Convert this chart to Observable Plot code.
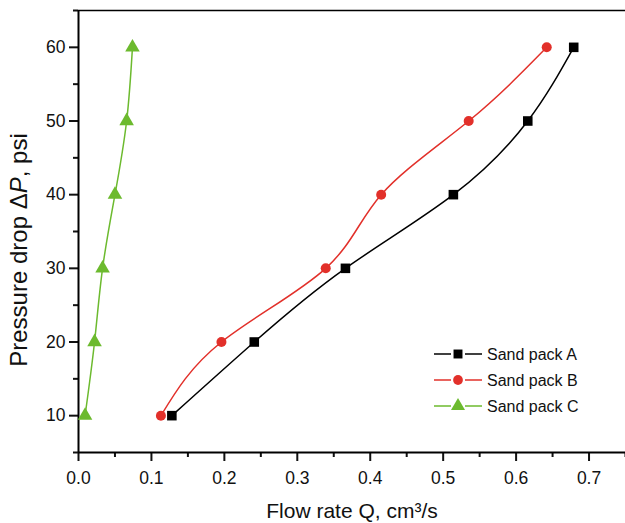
<!DOCTYPE html>
<html>
<head>
<meta charset="utf-8">
<script src="https://cdn.jsdelivr.net/npm/d3@7"></script>
<script src="https://cdn.jsdelivr.net/npm/@observablehq/plot@0.6"></script>
<style>
  html, body { margin: 0; padding: 0; background: #fff; }
  #chart { width: 625px; height: 523px; }
</style>
</head>
<body>
<div id="chart"></div>
<script>
// ---- data ----
const seriesNames = ["Sand pack A", "Sand pack B", "Sand pack C"];
const pressure = [10, 20, 30, 40, 50, 60];
const flowA = [0.128, 0.241, 0.366, 0.514, 0.616, 0.679];
const flowB = [0.113, 0.196, 0.339, 0.415, 0.535, 0.642];
const flowC = [0.009, 0.022, 0.033, 0.050, 0.066, 0.074];
const xTicks = [0, 0.1, 0.2, 0.3, 0.4, 0.5, 0.6, 0.7];
const xMinorTicks = [0.05, 0.15, 0.25, 0.35, 0.45, 0.55, 0.65, 0.75];
const yTicks = [10, 20, 30, 40, 50, 60];
const yMinorTicks = [5, 15, 25, 35, 45, 55, 65];

const colors = ["#000000", "#e2302a", "#6cba2e"];
const symbols = ["square", "circle", "triangle"];
const flows = [flowA, flowB, flowC];

const rows = [];
seriesNames.forEach((s, i) => {
  pressure.forEach((p, j) => rows.push({series: s, q: flows[i][j], dp: p}));
});

const font = "'Liberation Sans', Arial, Helvetica, sans-serif";

const marks = [];
seriesNames.forEach((s, i) => {
  const d = rows.filter(r => r.series === s);
  marks.push(Plot.line(d, {x: "q", y: "dp", stroke: colors[i], strokeWidth: 1.5, curve: "natural"}));
});
seriesNames.forEach((s, i) => {
  const d = rows.filter(r => r.series === s);
  marks.push(Plot.dot(d, {x: "q", y: "dp", symbol: symbols[i], fill: colors[i], stroke: "none",
    r: i === 1 ? 5 : 5.4}));
});

const chart = Plot.plot({
  width: 625,
  height: 523,
  marginLeft: 78,
  marginRight: 0,
  marginTop: 10,
  marginBottom: 71,
  style: {fontFamily: font, fontSize: "17px", color: "#111", background: "#fff", overflow: "visible"},
  x: {domain: [0, 0.75], axis: null},
  y: {domain: [5, 65], axis: null},
  marks: [
    Plot.axisX({ticks: xTicks, tickSize: 9, tickPadding: 10, tickFormat: d3.format(".1f"), label: null, strokeWidth: 2, fontSize: 17.5}),
    Plot.axisX({ticks: xMinorTicks, tickSize: 5, text: null, label: null, strokeWidth: 2}),
    Plot.axisY({ticks: yTicks, tickSize: 9, tickPadding: 4, tickFormat: d3.format("d"), label: null, strokeWidth: 2, fontSize: 17.5}),
    Plot.axisY({ticks: yMinorTicks, tickSize: 5, text: null, label: null, strokeWidth: 2}),
    Plot.ruleY([5], {stroke: "#000", strokeWidth: 2}),
    Plot.ruleX([0], {stroke: "#000", strokeWidth: 2}),
    Plot.ruleY([65], {stroke: "#000", strokeWidth: 1.6}),
    ...marks
  ]
});

document.getElementById("chart").appendChild(chart);

// ---- axis titles and legend ----
const svg = d3.select(chart);

svg.append("text")
  .attr("x", 352).attr("y", 518)
  .attr("text-anchor", "middle")
  .style("font-family", font).style("font-size", "21px").attr("fill", "#111")
  .text("Flow rate Q, cm³/s");

const yl = svg.append("text")
  .attr("transform", "translate(27,250) rotate(-90)")
  .attr("text-anchor", "middle")
  .style("font-family", font).style("font-size", "24px").attr("fill", "#111");
yl.append("tspan").text("Pressure drop Δ");
yl.append("tspan").style("font-style", "italic").text("P");
yl.append("tspan").text(", psi");

const legendYs = [354, 380, 406];
const symbolTypes = [d3.symbolSquare, d3.symbolCircle, d3.symbolTriangle];
const symbolSizes = [80, 75, 85];
seriesNames.forEach((s, i) => {
  const g = svg.append("g").attr("transform", `translate(0,${legendYs[i]})`);
  g.append("line").attr("x1", 434).attr("x2", 451).attr("y1", 0).attr("y2", 0)
    .attr("stroke", colors[i]).attr("stroke-width", 1.5);
  g.append("line").attr("x1", 465).attr("x2", 482).attr("y1", 0).attr("y2", 0)
    .attr("stroke", colors[i]).attr("stroke-width", 1.5);
  g.append("path").attr("transform", "translate(458,0)")
    .attr("d", d3.symbol(symbolTypes[i], symbolSizes[i])())
    .attr("fill", colors[i]);
  g.append("text").attr("x", 487).attr("y", 0).attr("dy", "0.36em")
    .attr("text-anchor", "start")
    .style("font-family", font).style("font-size", "16px").attr("fill", "#111")
    .text(s);
});
</script>
</body>
</html>
